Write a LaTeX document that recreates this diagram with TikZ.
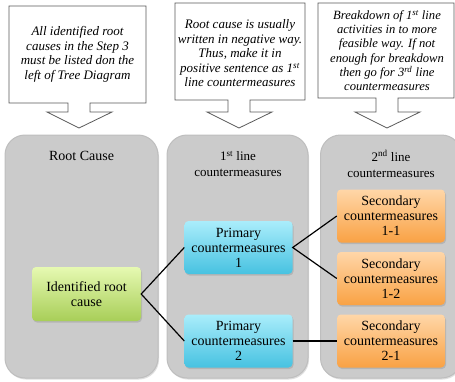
\documentclass[tikz,border=0pt]{standalone}
\usepackage{fontspec}
\setmainfont{Liberation Serif}
\usetikzlibrary{shadows}

\definecolor{colgray}{HTML}{CBCBCB}
\definecolor{coledge}{HTML}{BEBEBE}
\definecolor{greentop}{HTML}{E6F9B2}
\definecolor{greenbot}{HTML}{A8CE58}
\definecolor{cyantop}{HTML}{AAEDFB}
\definecolor{cyanbot}{HTML}{47C2E1}
\definecolor{orangetop}{HTML}{FFD6A8}
\definecolor{orangebot}{HTML}{F9A244}
\definecolor{calloutline}{HTML}{5A5A5A}

\begin{document}
\begin{tikzpicture}[x=1pt,y=-1pt,
  column/.style={fill=colgray, draw=coledge, line width=1pt, rounded corners=20pt, inner sep=0pt,
    drop shadow={shadow xshift=1pt, shadow yshift=-1.5pt, opacity=0.25}},
  coltitle/.style={align=center, font=\fontsize{13}{16.5}\selectfont, inner sep=0pt},
  stepbox/.style={rounded corners=4pt, align=center, inner sep=1pt,
    minimum width=108pt, minimum height=53pt,
    font=\fontsize{14}{15}\selectfont,
    drop shadow={shadow xshift=1pt, shadow yshift=-1.5pt, opacity=0.3}},
  rootbox/.style={stepbox, top color=greentop, bottom color=greenbot},
  primbox/.style={stepbox, top color=cyantop, bottom color=cyanbot},
  secbox/.style={stepbox, top color=orangetop, bottom color=orangebot},
  callout/.style={draw=calloutline, fill=white, line width=0.8pt, line join=miter},
  callouttext/.style={align=center, inner sep=0pt,
    font=\fontsize{13}{14.5}\selectfont\itshape},
  link/.style={line width=1.2pt, black}]

\useasboundingbox (0,0) rectangle (455,381);
\fill[white] (0,0) rectangle (455,381);

% callouts with downward arrows
\draw[callout] (9,6) -- (146,6) -- (146,103) -- (90,103) -- (90,112) -- (112,112)
  -- (79,128) -- (47,112) -- (68,112) -- (68,103) -- (9,103) -- cycle;
\node[callouttext] (c1) at (77.5,54.5)
  {All identified root\\causes in the Step 3\\must be listed don the\\left of Tree Diagram};

\draw[callout] (175,3) -- (305,3) -- (305,100) -- (250,100) -- (250,112) -- (272,112)
  -- (239,128) -- (207,112) -- (228,112) -- (228,100) -- (175,100) -- cycle;
\node[callouttext] (c2) at (240,53.5)
  {Root cause is usually\\written in negative way.\\Thus, make it in\\positive sentence as 1\textsuperscript{st}\\line countermeasures};

\draw[callout] (318,3) -- (454,3) -- (454,98) -- (398,98) -- (398,112) -- (420,112)
  -- (387,128) -- (355,112) -- (376,112) -- (376,98) -- (318,98) -- cycle;
\node[callouttext, font=\fontsize{12.6}{14.2}\selectfont\itshape] (c3) at (387,50.5)
  {Breakdown of 1\textsuperscript{st} line\\activities in to more\\feasible way. If not\\enough for breakdown\\then go for 3\textsuperscript{rd} line\\countermeasures};

% columns
\node[column, minimum width=153pt, minimum height=243pt] (col1) at (81.5,256.5) {};
\node[column, minimum width=141pt, minimum height=243pt] (col2) at (237.5,256.5) {};
\node[column, minimum width=141pt, minimum height=243pt] (col3) at (391,256.5) {};

\node[coltitle, font=\fontsize{14}{16.5}\selectfont] (t1) at (81.5,156) {Root Cause};
\node[coltitle] (t2) at (238,164) {1\textsuperscript{st} line\\countermeasures};
\node[coltitle] (t3) at (391,164) {2\textsuperscript{nd} line\\countermeasures};

% tree boxes
\node[rootbox, minimum width=109pt, minimum height=54pt] (root) at (86.5,294) {Identified root\\cause};
\node[primbox] (p1) at (238.5,247.5) {Primary\\countermeasures\\1};
\node[primbox] (p2) at (238.5,341) {Primary\\countermeasures\\2};
\node[secbox] (s11) at (391,216) {Secondary\\countermeasures\\1-1};
\node[secbox] (s12) at (391,278.5) {Secondary\\countermeasures\\1-2};
\node[secbox] (s21) at (391,341) {Secondary\\countermeasures\\2-1};

% connectors
\draw[link] (p1.west) -- (root.east) -- (p2.west);
\draw[link] (s11.west) -- (p1.east) -- (s12.west);
\draw[link] (p2.east) -- (s21.west);
\end{tikzpicture}
\end{document}
